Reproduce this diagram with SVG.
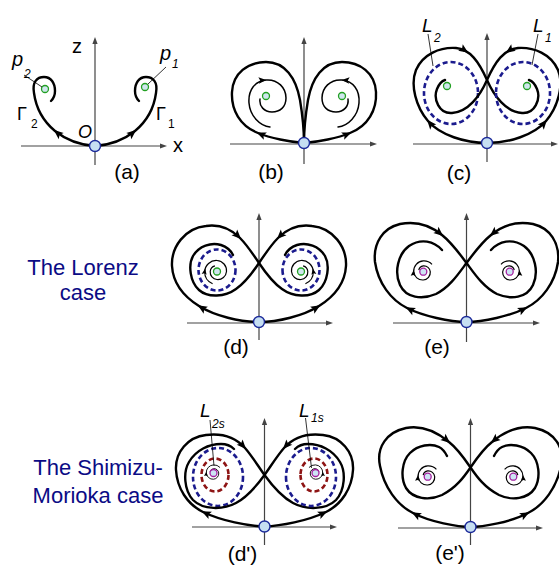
<svg xmlns="http://www.w3.org/2000/svg" xmlns:xlink="http://www.w3.org/1999/xlink" width="559" height="566" viewBox="0 0 559 566">
<style>
text{font-family:"Liberation Sans",Arial,sans-serif;fill:#000}
.it{font-style:italic}
.ax{stroke:#444;stroke-width:1.2;fill:none}
.traj{stroke:#000;stroke-width:2.4;fill:none;stroke-linecap:round}
.thin{stroke:#000;stroke-width:1.5;fill:none;stroke-linecap:round}
.sp{stroke:#000;stroke-width:1.2;fill:none}
.bd{stroke:#1b1b8e;stroke-width:2.6;fill:none;stroke-dasharray:5 3}
.rd{stroke:#8e1414;stroke-width:2.6;fill:none;stroke-dasharray:5 3}
.eq{fill:#c6dff2;stroke:#1c2a9a;stroke-width:1.4}
.pg{fill:#cfe6ee;stroke:#22a022;stroke-width:1.3}
.pp{fill:#cde4f4;stroke:#a3209f;stroke-width:1.3}
.cap{font-size:21px}
.side{font-size:22px;fill:#0b0b85}
.ptr{stroke:#000;stroke-width:0.8}
</style>
<defs>
<path id="ah" d="M1.5,0 L-8,-4 L-6,0 L-8,4 Z"/>
<path id="ahs" d="M1,0 L-5,-2.5 L-4,0 L-5,2.5 Z"/>
<path id="axh" d="M0,0 L-7,-2.6 L-7,2.6 Z" fill="#444"/>
<g id="spIn">
<path class="sp" d="M-4.4,12.2 A12.6,12.6 0 0 1 -12.3,0 A11.6,11.6 0 0 1 0,-11 A10.2,10.2 0 0 1 9.5,0 A8.7,8.7 0 0 1 0,8 A7.4,7.4 0 0 1 -6.8,0 A6.4,6.4 0 0 1 -2.1,-5.6"/>
<use xlink:href="#ahs" transform="translate(-12,-2.1) rotate(-80)"/>
</g>
<g id="spOut">
<path class="sp" d="M-4.5,-1.6 A5.3,5.3 0 0 1 0,-5.8 A6.4,6.4 0 0 1 7,0 A7.7,7.7 0 0 1 0,8.3 A9,9 0 0 1 -9.6,0 A10.2,10.2 0 0 1 0,-10.8 A11,11 0 0 1 8.7,-7.3"/>
<use xlink:href="#ahs" transform="translate(-9.7,-0.8) rotate(-85)"/>
</g>
</defs>

<!-- Panel (a) -->
<g id="panel-a">
<line class="ax" x1="21" y1="146" x2="162" y2="146"/><use xlink:href="#axh" transform="translate(167,146)"/>
<line class="ax" x1="95" y1="165" x2="95" y2="42"/><use xlink:href="#axh" transform="translate(95,37) rotate(-90)"/>
<g id="a-left">
<path class="traj" d="M95,146 C80,145 65,139 55,131 C43,121 36,108 34,93 C32,82 37,77 44,77 C51,77 55,83 55,91 C55,96 53,99 51,101"/>
<use xlink:href="#ah" transform="translate(55,131) rotate(219)"/>
</g>
<use xlink:href="#a-left" transform="matrix(-1 0 0 1 190 0)"/>
<circle class="pg" cx="45" cy="89" r="3.5"/>
<circle class="pg" cx="145" cy="87" r="3.5"/>
<line class="ptr" x1="24" y1="75" x2="42" y2="87"/>
<line class="ptr" x1="166" y1="67" x2="148" y2="84"/>
<circle class="eq" cx="95" cy="146" r="5.5"/>
<text x="72" y="53" style="font-size:20px">z</text>
<text x="173" y="152" style="font-size:20px">x</text>
<text x="78" y="138" class="it" style="font-size:18px">O</text>
<text x="12" y="66" class="it" style="font-size:20px">p</text>
<text x="24" y="78" class="it" style="font-size:12px">2</text>
<text x="160" y="60" class="it" style="font-size:20px">p</text>
<text x="172" y="68" class="it" style="font-size:12px">1</text>
<text x="17" y="120" style="font-size:18px">Γ</text>
<text x="31" y="128" style="font-size:12px">2</text>
<text x="156" y="120" style="font-size:18px">Γ</text>
<text x="168" y="128" style="font-size:12px">1</text>
<text x="127" y="179" class="cap" text-anchor="middle">(a)</text>
</g>

<!-- Panel (b) -->
<g id="panel-b">
<line class="ax" x1="230" y1="144" x2="372" y2="144"/><use xlink:href="#axh" transform="translate(377,144)"/>
<line class="ax" x1="304" y1="164" x2="304" y2="42"/><use xlink:href="#axh" transform="translate(304,37) rotate(-90)"/>
<g id="b-left">
<path class="traj" d="M304,143 C290,142 270,138 258,133 C240,126 231,110 232,92 C233,73 248,62 266,62 C285,62 296,78 300,100 C303,118 304,130 304,143"/>
<use xlink:href="#ah" transform="translate(258,133) rotate(203)"/>
<path class="thin" d="M270,127 C260,126 250,116 249,103 C248,90 255,81 266,80 C278,79 286,88 286,98 C286,107 280,112 272,112 C264,112 259,106 260,99"/>
<use xlink:href="#ah" transform="translate(265,80) rotate(-5) scale(0.8)"/>
<circle class="pg" cx="266" cy="96" r="3.5"/>
</g>
<use xlink:href="#b-left" transform="matrix(-1 0 0 1 608 0)"/>
<circle class="eq" cx="304" cy="143" r="5.5"/>
<text x="271" y="179" class="cap" text-anchor="middle">(b)</text>
</g>

<!-- Panel (c) -->
<g id="panel-c">
<line class="ax" x1="413" y1="144" x2="553" y2="144"/><use xlink:href="#axh" transform="translate(558,144)"/>
<line class="ax" x1="487" y1="162" x2="487" y2="38"/><use xlink:href="#axh" transform="translate(487,33) rotate(-90)"/>
<g id="c-left">
<path class="traj" d="M487,143 C465,143 440,135 428,121 C416,107 410,85 416,70 C423,54 440,47 456,48 C470,49 479,62 487,80 C494,96 506,112 522,113 C535,114 541,99 537,89 C535,84 532,81 529,80"/>
<use xlink:href="#ah" transform="translate(428,121) rotate(229)"/>
<use xlink:href="#ah" transform="translate(467,52) rotate(35)"/>
<ellipse class="bd" cx="451" cy="93" rx="27" ry="31"/>
<circle class="pg" cx="447" cy="86" r="3.5"/>
</g>
<use xlink:href="#c-left" transform="matrix(-1 0 0 1 974 0)"/>
<circle class="eq" cx="487" cy="143" r="5.5"/>
<line class="ptr" x1="428" y1="34" x2="433" y2="66"/>
<line class="ptr" x1="538" y1="34" x2="532" y2="65"/>
<text x="422" y="32" class="it" style="font-size:19px">L</text>
<text x="434" y="42" class="it" style="font-size:12px">2</text>
<text x="533" y="32" class="it" style="font-size:19px">L</text>
<text x="545" y="42" class="it" style="font-size:12px">1</text>
<text x="459" y="180" class="cap" text-anchor="middle">(c)</text>
</g>

<!-- Side labels -->
<g id="label-lorenz">
<text x="83" y="275" class="side" text-anchor="middle">The Lorenz</text>
<text x="83" y="300" class="side" text-anchor="middle">case</text>
</g>
<g id="label-sm">
<text x="98" y="475" class="side" text-anchor="middle">The Shimizu-</text>
<text x="98" y="503" class="side" text-anchor="middle">Morioka case</text>
</g>

<!-- Panel (d) -->
<g id="panel-d">
<line class="ax" x1="187" y1="323" x2="328" y2="323"/><use xlink:href="#axh" transform="translate(333,323)"/>
<line class="ax" x1="259" y1="340" x2="259" y2="218"/><use xlink:href="#axh" transform="translate(259,213) rotate(-90)"/>
<g id="d-left">
<path class="traj" d="M259,322 C240,322 215,316 199,306 C183,296 173,283 172,266 C171,247 185,228 206,226 C220,224 231,229 240,238 C247,245 253,254 259,263 C265,272 272,282 282,289 C293,297 310,298 319,290 C328,282 330,265 325,256 C319,246 307,242 297,245 C291,247 287,251 285,255"/>
<use xlink:href="#ah" transform="translate(199,306) rotate(212)"/>
<use xlink:href="#ah" transform="translate(240,238) rotate(45)"/>
<ellipse class="bd" cx="217" cy="270" rx="18.5" ry="20.5"/>
<use xlink:href="#spIn" transform="translate(217,271.5)"/>
<circle class="pg" cx="217" cy="271.5" r="3.5"/>
</g>
<use xlink:href="#d-left" transform="matrix(-1 0 0 1 518 0)"/>
<circle class="eq" cx="259" cy="322" r="5.5"/>
<text x="236" y="354" class="cap" text-anchor="middle">(d)</text>
</g>

<!-- Panel (e) -->
<g id="panel-e">
<line class="ax" x1="393" y1="323" x2="535" y2="323"/><use xlink:href="#axh" transform="translate(540,323)"/>
<line class="ax" x1="466.5" y1="342" x2="466.5" y2="218"/><use xlink:href="#axh" transform="translate(466.5,213) rotate(-90)"/>
<g id="e-left">
<path class="traj" d="M466.5,322 C450,322 423,316 407,308 C391,300 378,283 375,262 C373,243 383,228 400,224 C415,221 430,225 442,235 C452,243 459,253 466.5,263 C474,273 483,287 497,294 C511,300 527,298 533,285 C539,272 535,254 524,246 C512,238 499,241 491,250"/>
<use xlink:href="#ah" transform="translate(407,308) rotate(207)"/>
<use xlink:href="#ah" transform="translate(442,235) rotate(40)"/>
<use xlink:href="#spOut" transform="translate(423.3,271.7)"/>
<circle class="pp" cx="423.3" cy="271.7" r="3.5"/>
</g>
<use xlink:href="#e-left" transform="matrix(-1 0 0 1 933 0)"/>
<circle class="eq" cx="466.5" cy="322" r="5.5"/>
<text x="437" y="354" class="cap" text-anchor="middle">(e)</text>
</g>

<!-- Panel (d') -->
<g id="panel-d2">
<line class="ax" x1="192" y1="527" x2="332" y2="527"/><use xlink:href="#axh" transform="translate(337,527)"/>
<line class="ax" x1="264.5" y1="545" x2="264.5" y2="423"/><use xlink:href="#axh" transform="translate(264.5,418) rotate(-90)"/>
<g id="d2-left">
<path class="traj" d="M264.5,526.5 C248,526 222,521 203,512 C187,504 177,488 176,470 C175,452 188,437 206,435 C222,433 236,438 245,448 C252,456 258,466 264.5,475 C271,484 280,496 293,503 C306,510 326,510 336,500 C345,490 346,472 340,462 C333,450 320,444 308,444 C302,444 298,446 295,449"/>
<use xlink:href="#ah" transform="translate(203,512) rotate(205)"/>
<use xlink:href="#ah" transform="translate(245,448) rotate(48)"/>
<ellipse class="bd" cx="218" cy="477" rx="25" ry="29"/>
<ellipse class="rd" cx="215" cy="475" rx="13.5" ry="16.5"/>
<use xlink:href="#spOut" transform="translate(213.5,473) scale(0.75)"/>
<circle class="pp" cx="213.5" cy="473" r="3.5"/>
</g>
<use xlink:href="#d2-left" transform="matrix(-1 0 0 1 529 0)"/>
<circle class="eq" cx="264.5" cy="526.5" r="5.5"/>
<line class="ptr" x1="210" y1="420" x2="214" y2="466"/>
<line class="ptr" x1="305.5" y1="418" x2="311.5" y2="468"/>
<text x="200" y="417" class="it" style="font-size:19px">L</text>
<text x="212" y="428" class="it" style="font-size:12px">2s</text>
<text x="299" y="417" class="it" style="font-size:19px">L</text>
<text x="311" y="422" class="it" style="font-size:12px">1s</text>
<text x="242.5" y="561" class="cap" text-anchor="middle">(d')</text>
</g>

<!-- Panel (e') -->
<g id="panel-e2">
<line class="ax" x1="398" y1="528" x2="538" y2="528"/><use xlink:href="#axh" transform="translate(543,528)"/>
<line class="ax" x1="470.5" y1="545" x2="470.5" y2="423"/><use xlink:href="#axh" transform="translate(470.5,418) rotate(-90)"/>
<g id="e2-left">
<path class="traj" d="M471,527 C458,527 430,522 413,513 C397,505 384,487 380,466 C376,447 387,432 406,428 C422,425 437,432 449,442 C458,449 464,458 470.5,467.5 C477,477 485,488 499,495 C512,501 528,499 535,488 C541,477 539,461 531,453 C523,445 510,443 502,447 C498,449 496,452 494,456"/>
<use xlink:href="#ah" transform="translate(413,513) rotate(208)"/>
<use xlink:href="#ah" transform="translate(449,442) rotate(40)"/>
<use xlink:href="#spOut" transform="translate(427.7,476.7)"/>
<circle class="pp" cx="427.7" cy="476.7" r="3.5"/>
</g>
<use xlink:href="#e2-left" transform="matrix(-1 0 0 1 941 0)"/>
<circle class="eq" cx="470.5" cy="527" r="5.5"/>
<text x="450" y="560" class="cap" text-anchor="middle">(e')</text>
</g>
</svg>
